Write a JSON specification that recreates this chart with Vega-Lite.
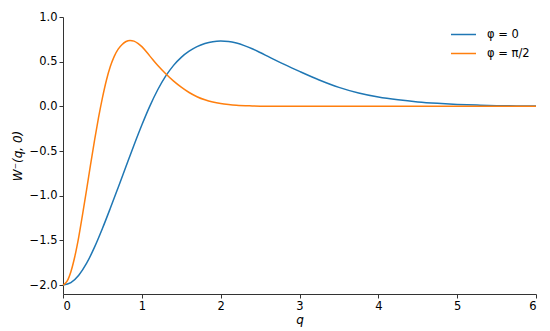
{
  "$schema": "https://vega.github.io/schema/vega-lite/v6.json",
  "width": 473,
  "height": 277,
  "autosize": {"type": "none"},
  "padding": {"left": 63, "top": 17, "right": 14, "bottom": 37},
  "data": {
    "values": [
      {"q": 0.0, "v": -2.0, "s": "φ = 0"},
      {"q": 0.1, "v": -1.9725, "s": "φ = 0"},
      {"q": 0.2, "v": -1.89, "s": "φ = 0"},
      {"q": 0.3, "v": -1.755, "s": "φ = 0"},
      {"q": 0.4, "v": -1.576, "s": "φ = 0"},
      {"q": 0.5, "v": -1.367, "s": "φ = 0"},
      {"q": 0.6, "v": -1.141, "s": "φ = 0"},
      {"q": 0.7, "v": -0.907, "s": "φ = 0"},
      {"q": 0.8, "v": -0.67, "s": "φ = 0"},
      {"q": 0.9, "v": -0.435, "s": "φ = 0"},
      {"q": 1.0, "v": -0.209, "s": "φ = 0"},
      {"q": 1.1, "v": 0.0, "s": "φ = 0"},
      {"q": 1.2, "v": 0.183, "s": "φ = 0"},
      {"q": 1.3, "v": 0.335, "s": "φ = 0"},
      {"q": 1.4, "v": 0.456, "s": "φ = 0"},
      {"q": 1.5, "v": 0.548, "s": "φ = 0"},
      {"q": 1.6, "v": 0.617, "s": "φ = 0"},
      {"q": 1.7, "v": 0.668, "s": "φ = 0"},
      {"q": 1.8, "v": 0.703, "s": "φ = 0"},
      {"q": 1.9, "v": 0.724, "s": "φ = 0"},
      {"q": 2.0, "v": 0.731, "s": "φ = 0"},
      {"q": 2.1, "v": 0.726, "s": "φ = 0"},
      {"q": 2.2, "v": 0.708, "s": "φ = 0"},
      {"q": 2.3, "v": 0.68, "s": "φ = 0"},
      {"q": 2.4, "v": 0.645, "s": "φ = 0"},
      {"q": 2.5, "v": 0.603, "s": "φ = 0"},
      {"q": 2.6, "v": 0.559, "s": "φ = 0"},
      {"q": 2.7, "v": 0.515, "s": "φ = 0"},
      {"q": 2.8, "v": 0.472, "s": "φ = 0"},
      {"q": 2.9, "v": 0.431, "s": "φ = 0"},
      {"q": 3.0, "v": 0.391, "s": "φ = 0"},
      {"q": 3.25, "v": 0.295, "s": "φ = 0"},
      {"q": 3.5, "v": 0.212, "s": "φ = 0"},
      {"q": 3.75, "v": 0.149, "s": "φ = 0"},
      {"q": 4.0, "v": 0.104, "s": "φ = 0"},
      {"q": 4.25, "v": 0.073, "s": "φ = 0"},
      {"q": 4.5, "v": 0.05, "s": "φ = 0"},
      {"q": 4.75, "v": 0.034, "s": "φ = 0"},
      {"q": 5.0, "v": 0.022, "s": "φ = 0"},
      {"q": 5.25, "v": 0.014, "s": "φ = 0"},
      {"q": 5.5, "v": 0.008, "s": "φ = 0"},
      {"q": 5.75, "v": 0.005, "s": "φ = 0"},
      {"q": 6.0, "v": 0.003, "s": "φ = 0"},
      {"q": 0.0, "v": -2.0, "s": "φ = π/2"},
      {"q": 0.05, "v": -1.96, "s": "φ = π/2"},
      {"q": 0.1, "v": -1.85, "s": "φ = π/2"},
      {"q": 0.15, "v": -1.68, "s": "φ = π/2"},
      {"q": 0.2, "v": -1.46, "s": "φ = π/2"},
      {"q": 0.25, "v": -1.2, "s": "φ = π/2"},
      {"q": 0.3, "v": -0.93, "s": "φ = π/2"},
      {"q": 0.35, "v": -0.65, "s": "φ = π/2"},
      {"q": 0.4, "v": -0.38, "s": "φ = π/2"},
      {"q": 0.45, "v": -0.13, "s": "φ = π/2"},
      {"q": 0.5, "v": 0.095, "s": "φ = π/2"},
      {"q": 0.55, "v": 0.29, "s": "φ = π/2"},
      {"q": 0.6, "v": 0.445, "s": "φ = π/2"},
      {"q": 0.65, "v": 0.56, "s": "φ = π/2"},
      {"q": 0.7, "v": 0.64, "s": "φ = π/2"},
      {"q": 0.75, "v": 0.693, "s": "φ = π/2"},
      {"q": 0.8, "v": 0.726, "s": "φ = π/2"},
      {"q": 0.85, "v": 0.738, "s": "φ = π/2"},
      {"q": 0.9, "v": 0.73, "s": "φ = π/2"},
      {"q": 0.95, "v": 0.705, "s": "φ = π/2"},
      {"q": 1.0, "v": 0.668, "s": "φ = π/2"},
      {"q": 1.1, "v": 0.565, "s": "φ = π/2"},
      {"q": 1.2, "v": 0.46, "s": "φ = π/2"},
      {"q": 1.3, "v": 0.368, "s": "φ = π/2"},
      {"q": 1.4, "v": 0.285, "s": "φ = π/2"},
      {"q": 1.5, "v": 0.215, "s": "φ = π/2"},
      {"q": 1.6, "v": 0.155, "s": "φ = π/2"},
      {"q": 1.7, "v": 0.108, "s": "φ = π/2"},
      {"q": 1.8, "v": 0.073, "s": "φ = π/2"},
      {"q": 1.9, "v": 0.048, "s": "φ = π/2"},
      {"q": 2.0, "v": 0.031, "s": "φ = π/2"},
      {"q": 2.1, "v": 0.02, "s": "φ = π/2"},
      {"q": 2.2, "v": 0.012, "s": "φ = π/2"},
      {"q": 2.4, "v": 0.005, "s": "φ = π/2"},
      {"q": 2.6, "v": 0.002, "s": "φ = π/2"},
      {"q": 3.0, "v": 0.0003, "s": "φ = π/2"},
      {"q": 4.0, "v": 0.0, "s": "φ = π/2"},
      {"q": 5.0, "v": 0.0, "s": "φ = π/2"},
      {"q": 6.0, "v": 0.0, "s": "φ = π/2"}
    ]
  },
  "mark": {"type": "line", "strokeWidth": 1.5, "interpolate": "monotone"},
  "encoding": {
    "x": {
      "field": "q",
      "type": "quantitative",
      "scale": {"domain": [0, 6], "nice": false, "zero": false},
      "axis": {
        "title": "q",
        "titleFontStyle": "italic",
        "titleFontWeight": "normal",
        "titleFontSize": 12,
        "titlePadding": 3,
        "values": [0, 1, 2, 3, 4, 5, 6],
        "format": "d",
        "grid": false,
        "tickSize": 4,
        "labelPadding": 2,
        "labelFontSize": 11.5
      }
    },
    "y": {
      "field": "v",
      "type": "quantitative",
      "scale": {"domain": [-2.1, 1.0], "nice": false, "zero": false},
      "axis": {
        "title": "W⁻(q, 0)",
        "titleFontStyle": "italic",
        "titleFontWeight": "normal",
        "titleFontSize": 12,
        "titlePadding": 5,
        "values": [-2.0, -1.5, -1.0, -0.5, 0.0, 0.5, 1.0],
        "format": ".1f",
        "labelExpr": "replace(datum.label, '-', '−')",
        "grid": false,
        "tickSize": 4,
        "labelPadding": 2,
        "labelFontSize": 11.5
      }
    },
    "color": {
      "field": "s",
      "type": "nominal",
      "scale": {"domain": ["φ = 0", "φ = π/2"], "range": ["#1f77b4", "#ff7f0e"]},
      "legend": {
        "title": null,
        "orient": "none",
        "legendX": 387,
        "legendY": 4,
        "symbolType": "stroke",
        "symbolSize": 625,
        "symbolStrokeWidth": 1.5,
        "labelFontSize": 11.5,
        "labelOffset": 10,
        "rowPadding": -6,
        "labelColor": "#000"
      }
    }
  },
  "config": {
    "view": {"stroke": null},
    "font": "DejaVu Sans",
    "axis": {
      "domainColor": "#333",
      "tickColor": "#333",
      "labelColor": "#000",
      "titleColor": "#000",
      "domainWidth": 1,
      "tickWidth": 1
    }
  }
}
